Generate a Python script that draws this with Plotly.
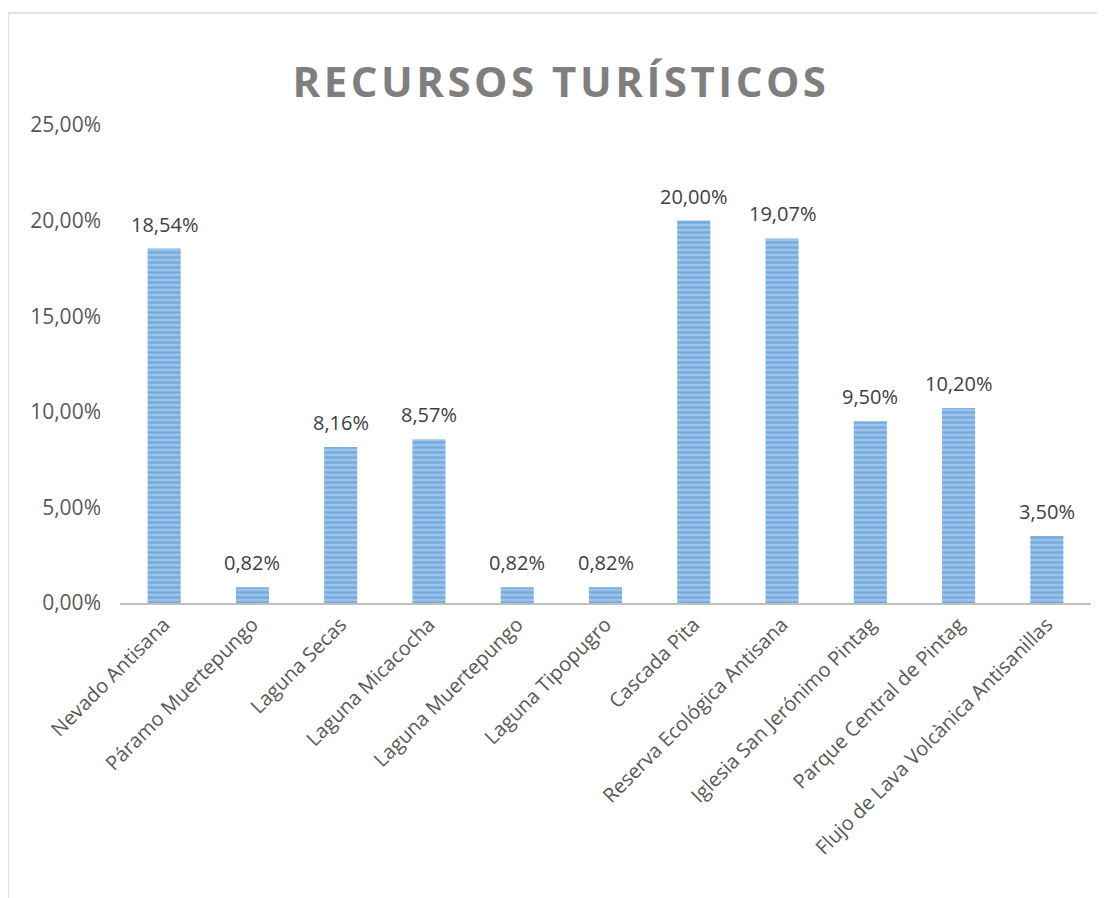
import plotly.graph_objects as go

categories = ["Nevado Antisana", "Páramo Muertepungo", "Laguna Secas", "Laguna Micacocha",
              "Laguna Muertepungo", "Laguna Tipopugro", "Cascada Pita",
              "Reserva Ecológica Antisana", "Iglesia San Jerónimo Pintag",
              "Parque Central de Pintag", "Flujo de Lava Volcànica Antisanillas"]
values = [0.1854, 0.0082, 0.0816, 0.0857, 0.0082, 0.0082, 0.2000, 0.1907, 0.0950, 0.1020, 0.0350]
y_ticks = [0, 0.05, 0.10, 0.15, 0.20, 0.25]

# page is offset by 8px body margin
W, H = 1105, 898
OFF = 8
L, R, T, B = 120 - OFF, W - (1091 - OFF), 125 - OFF, H - (603 - OFF)
pw = W - L - R
ph = H - T - B

fig = go.Figure(go.Bar(
    x=categories, y=values,
    marker=dict(color="#9dc3e6", line=dict(width=0),
                pattern=dict(shape="-", fgcolor="#4f91d2", bgcolor="#9cc4ea", size=5, solidity=0.5)),
    hoverinfo="x+y",
))

for c, v in zip(categories, values):
    fig.add_annotation(x=c, y=v, text=f"{v*100:.2f}%".replace(".", ","), showarrow=False,
                       yanchor="bottom", yshift=9,
                       font=dict(family="Open Sans", size=20, color="#404040"))

fig.update_layout(
    width=W, height=H,
    margin=dict(l=L, r=R, t=T, b=B, autoexpand=False),
    paper_bgcolor="white", plot_bgcolor="white",
    separators=",.",
    bargap=0.625,
    showlegend=False,
    title=dict(text='<span style="letter-spacing:3.5px"><b>RECURSOS TURÍSTICOS</b></span>',
               xref="container", x=(561 - OFF) / W, xanchor="center",
               y=1 - (82 - OFF) / H, yanchor="middle",
               font=dict(family="Open Sans", size=42, color="#7f7f7f")),
    font=dict(family="Open Sans", color="#595959"),
    xaxis=dict(tickangle=-45, tickfont=dict(size=20, color="#595959"), showline=True,
               linecolor="#bfbfbf", linewidth=2, ticks="", showgrid=False),
    yaxis=dict(range=[0, 0.25], tickvals=y_ticks, tickformat=".2%", showgrid=False,
               zeroline=False, showline=False, tickfont=dict(size=21, color="#595959"), ticks="",
               ticklabelstandoff=18),
    shapes=[dict(type="rect", xref="paper", yref="paper",
                 x0=(8 - OFF - L) / pw, x1=(W + 50 - L) / pw,
                 y0=-(H + 50 - T - ph) / ph, y1=(H - B - (13 - OFF)) / ph,
                 line=dict(color="#d9d9d9", width=1.5), layer="below")],
)

fig.write_html("out.html")
